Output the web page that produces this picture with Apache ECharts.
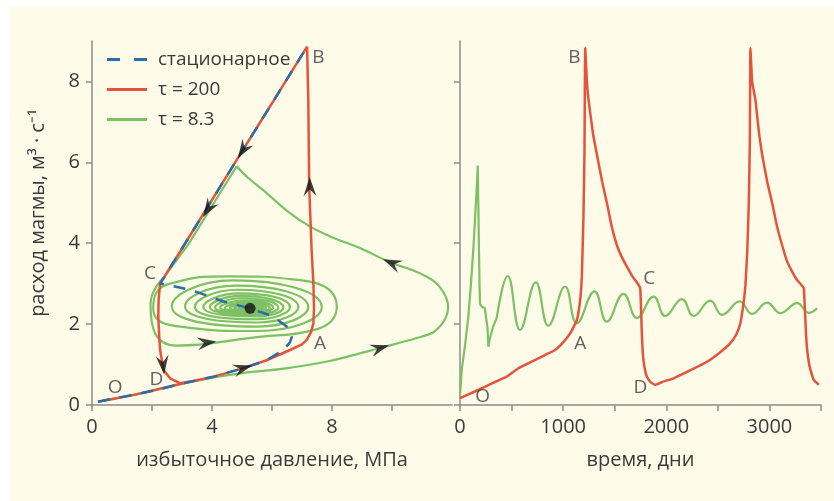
<!DOCTYPE html>
<html>
<head>
<meta charset="utf-8">
<script src="https://cdn.jsdelivr.net/npm/echarts@6/dist/echarts.min.js"></script>
<style>
html, body { margin: 0; padding: 0; background: #fff; }
#container { width: 834px; height: 501px; }
</style>
</head>
<body>
<div id="container"></div>
<script>
// фазовая плоскость: стационарная кривая (S-образная)
var statP = [0.2, 0.7, 1.4, 2.2, 3.0, 4.0, 5.0, 5.8, 6.38, 6.6, 6.66, 6.49, 6.04, 5.27, 4.38, 3.27, 2.49, 2.27, 3.0, 4.0, 5.0, 6.0, 7.17];
var statQ = [0.08, 0.16, 0.25, 0.38, 0.53, 0.69, 0.9, 1.1, 1.36, 1.55, 1.69, 1.94, 2.19, 2.39, 2.56, 2.85, 2.97, 3.0, 3.87, 5.07, 6.27, 7.46, 8.86];

// tau = 200, фазовая плоскость
var redP = [0.2, 1.4, 3.0, 4.0, 5.0, 5.8, 6.6, 7.0, 7.16, 7.3, 7.38, 7.4, 7.38, 7.32, 7.24, 7.21, 7.17, 6.0, 5.0, 4.0, 3.0, 2.27, 2.22, 2.21, 2.24, 2.27, 2.38, 2.6, 2.93, 3.5];
var redQ = [0.08, 0.25, 0.53, 0.69, 0.9, 1.1, 1.36, 1.5, 1.61, 1.8, 2.02, 2.4, 3.01, 3.84, 5.4, 7.55, 8.86, 7.46, 6.27, 5.07, 3.87, 3.0, 2.6, 2.19, 1.7, 1.36, 0.87, 0.66, 0.54, 0.61];

// tau = 8.3, фазовая плоскость: большая петля, участок ветви, спираль
var greenLoopP = [0.2, 1.4, 3.0, 4.2, 5.0, 6.4, 8.0, 9.6, 10.8, 11.38, 11.75, 11.87, 11.72, 11.38, 10.7, 9.99, 8.93, 8.0, 7.27, 6.5, 5.82, 5.2, 4.82];
var greenLoopQ = [0.08, 0.25, 0.52, 0.7, 0.79, 0.9, 1.1, 1.41, 1.65, 1.8, 2.1, 2.43, 2.78, 3.07, 3.33, 3.51, 3.88, 4.15, 4.41, 4.8, 5.24, 5.62, 5.9];
var greenBranchP = [4.82, 4.0, 3.2, 2.4];
var greenBranchQ = [5.9, 4.92, 3.96, 3.16];
var greenSpiralP = [2.4, 1.95, 2.82, 5.5, 7.38, 8.16, 7.0, 4.6, 2.6, 2.04, 2.8, 5.5,
  7.66, 4.7, 2.66, 5.5, 7.21, 4.8, 3.1, 5.5, 6.88, 4.85, 3.43, 5.5, 6.6, 4.9, 3.71, 5.45,
  6.38, 4.95, 3.93, 5.45, 6.21, 5.0, 4.1, 5.42, 6.04, 5.05, 4.27, 5.4, 5.93, 5.1, 4.43, 5.38,
  5.8, 5.12, 4.6, 5.35, 5.7, 5.15, 4.75, 5.33, 5.6, 5.2, 4.9, 5.3, 5.5, 5.22, 5.02, 5.27];
var greenSpiralQ = [3.16, 2.5, 1.47, 1.68, 1.85, 2.43, 3.08, 3.18, 3.0, 2.4, 1.95, 1.83,
  2.42, 3.08, 2.44, 1.94, 2.42, 2.95, 2.44, 2.04, 2.42, 2.85, 2.43, 2.12, 2.42, 2.76, 2.42, 2.19,
  2.41, 2.7, 2.42, 2.24, 2.41, 2.64, 2.41, 2.28, 2.41, 2.58, 2.41, 2.31, 2.4, 2.53, 2.4, 2.33,
  2.4, 2.49, 2.4, 2.35, 2.4, 2.46, 2.4, 2.36, 2.4, 2.44, 2.4, 2.37, 2.39, 2.42, 2.39, 2.39];
var fixedPoint = [5.27, 2.39];

// временные ряды
var redT = [0, 150, 300, 453, 566, 700, 820, 922, 1000, 1068, 1133, 1165, 1181, 1197, 1207, 1214,
  1230, 1246, 1290, 1327, 1380, 1424, 1472, 1521, 1570, 1618, 1667, 1731, 1748, 1756, 1764, 1772,
  1780, 1795, 1812, 1850, 1893, 1960, 2071, 2250, 2395, 2520, 2621, 2680, 2718, 2748, 2767, 2785,
  2800, 2810, 2816, 2832, 2864, 2900, 2929, 2980, 3026, 3075, 3123, 3171, 3220, 3268, 3310, 3333,
  3345, 3356, 3366, 3382, 3398, 3430, 3479];
var redQt = [0.17, 0.34, 0.52, 0.7, 0.91, 1.08, 1.23, 1.36, 1.55, 1.77, 2.1, 2.6, 3.18, 4.66, 6.31, 8.83,
  8.0, 7.55, 6.7, 6.2, 5.5, 5.0, 4.4, 3.95, 3.65, 3.42, 3.2, 2.97, 2.88, 2.3, 1.7, 1.3,
  1.08, 0.85, 0.7, 0.56, 0.5, 0.57, 0.66, 0.88, 1.07, 1.3, 1.53, 1.75, 2.02, 2.5, 2.95, 3.8,
  5.0, 6.5, 8.83, 8.0, 7.55, 6.7, 6.2, 5.5, 5.0, 4.4, 3.95, 3.55, 3.3, 3.09, 2.97, 2.89,
  2.3, 1.7, 1.36, 1.05, 0.87, 0.62, 0.5];
var greenStartT = [0, 10, 19, 50, 81, 105, 129, 150, 165, 172, 178, 184, 190, 194, 215, 240, 259, 267, 275, 290, 320, 356];
var greenStartQ = [0.25, 0.6, 0.92, 1.5, 2.19, 2.95, 3.84, 4.8, 5.5, 5.92, 4.9, 3.84, 2.9, 2.5, 2.42, 2.4, 2.39, 1.9, 1.44, 1.65, 1.93, 2.15];
var greenOscT = [356, 463, 583, 735, 857, 1019, 1133, 1304, 1424, 1586, 1716, 1877, 1990, 2152, 2265, 2427, 2541, 2712, 2832, 2978, 3107, 3269, 3381, 3463];
var greenOscQ = [2.15, 3.19, 1.86, 3.03, 1.96, 2.93, 2.02, 2.81, 2.06, 2.75, 2.15, 2.68, 2.2, 2.62, 2.2, 2.58, 2.23, 2.56, 2.25, 2.53, 2.27, 2.52, 2.28, 2.39];

// оси
var pressureTicks = [0, 2, 4, 6, 8, 10];
var pressureLabels = [0, 4, 8];
var flowTicks = [0, 2, 4, 6, 8];
var dayTicks = [0, 500, 1000, 1500, 2000, 2500, 3000, 3500];
var dayLabels = [0, 1000, 2000, 3000];

// стрелки: [p, q, поворот], буквы: [текст, x, y]
var redArrows = [[5.03, 6.3, 148], [3.87, 4.85, 148], [7.26, 5.4, 1], [2.37, 0.99, -174], [5.03, 0.91, -74]];
var greenArrows = [[9.6, 1.41, -73], [9.99, 3.51, 67], [3.83, 1.54, -83]];
var phaseLetters = [['O', 0.77, 0.42], ['D', 2.15, 0.63], ['C', 1.93, 3.24], ['A', 7.6, 1.53], ['B', 7.55, 8.6]];
var timeLetters = [['B', 1110, 8.6], ['C', 1835, 3.12], ['A', 1165, 1.53], ['D', 1750, 0.42], ['O', 220, 0.2]];

var RED = '#e4533a', BLUE = '#2d6ca8', GREEN = '#7cc164', INK = '#3a3a3a', AXIS = '#8c8c8c';
var FONT = 'Open Sans';

function zip(a, b) {
  return a.map(function (v, i) { return [v, b[i]]; });
}
function arrowData(list) {
  return list.map(function (a) { return { value: [a[0], a[1]], symbolRotate: a[2] }; });
}
function letterData(list) {
  return list.map(function (l) { return { name: l[0], value: [l[1], l[2]] }; });
}
var arrowPath = 'path://M8,0 L16,20 L8,13 L0,20 Z';
var solidIcon = 'path://M0,0h40v3h-40z';
var dashIcon = 'path://M0,0h13v3h-13zM27,0h13v3h-13z';

function xAxisOf(grid, max, ticks, labels, name) {
  return {
    gridIndex: grid, type: 'value', min: 0, max: max,
    name: name, nameLocation: 'middle', nameGap: 45,
    nameTextStyle: { color: INK, fontSize: 20, fontFamily: FONT },
    axisLine: { lineStyle: { color: AXIS, width: 1.5 } },
    axisTick: { customValues: ticks, length: 6, lineStyle: { color: AXIS, width: 1.5 } },
    axisLabel: { customValues: labels, margin: 12, color: INK, fontSize: 20, fontFamily: FONT,
      formatter: function (v) { return String(v); } },
    splitLine: { show: false }
  };
}
function yAxisOf(grid, showLabels, name) {
  return {
    gridIndex: grid, type: 'value', min: 0, max: 9,
    name: name, nameLocation: 'middle', nameGap: 44,
    nameTextStyle: { color: INK, fontSize: 20, fontFamily: FONT, padding: [0, 0, 0, 20] },
    axisLine: { show: true, lineStyle: { color: AXIS, width: 1.5 } },
    axisTick: { show: true, customValues: flowTicks, length: 6, lineStyle: { color: AXIS, width: 1.5 } },
    axisLabel: { show: showLabels, customValues: flowTicks, margin: 12, color: INK, fontSize: 20, fontFamily: FONT },
    splitLine: { show: false }
  };
}
function lineSeries(name, xi, data, color, width, smooth, z, dash) {
  return {
    name: name, type: 'line', xAxisIndex: xi, yAxisIndex: xi, data: data,
    symbol: 'none', smooth: smooth, z: z, silent: true,
    lineStyle: { color: color, width: width, type: dash || 'solid' },
    itemStyle: { color: color }
  };
}
function letterSeries(xi, list) {
  return {
    type: 'scatter', xAxisIndex: xi, yAxisIndex: xi, symbolSize: 1, z: 10, silent: true,
    itemStyle: { color: 'rgba(0,0,0,0)' },
    label: { show: true, position: 'inside', formatter: '{b}', color: INK, fontSize: 19, fontFamily: FONT },
    data: letterData(list)
  };
}

var myChart = echarts.init(document.getElementById('container'));
var option = {
  animation: false,
  graphic: [{ type: 'rect', z: -100, shape: { x: 10, y: 7, width: 824, height: 494 }, style: { fill: '#fefbe9' } }],
  legend: {
    left: 102, top: 45, orient: 'vertical', itemWidth: 40, itemHeight: 3, itemGap: 11,
    selectedMode: false,
    textStyle: { color: INK, fontSize: 19, fontFamily: FONT, padding: [0, 0, 0, 6] },
    data: [
      { name: 'стационарное', icon: dashIcon },
      { name: 'τ = 200', icon: solidIcon },
      { name: 'τ = 8.3', icon: solidIcon }
    ]
  },
  grid: [
    { left: 92, top: 41, width: 360, height: 364 },
    { left: 460, top: 41, width: 361, height: 364 }
  ],
  xAxis: [
    xAxisOf(0, 12, pressureTicks, pressureLabels, 'избыточное давление, МПа'),
    xAxisOf(1, 3500, dayTicks, dayLabels, 'время, дни')
  ],
  yAxis: [
    yAxisOf(0, true, 'расход магмы, м³ · с⁻¹'),
    yAxisOf(1, false, '')
  ],
  series: [
    lineSeries('τ = 8.3', 0, zip(greenLoopP, greenLoopQ), GREEN, 2.2, 0.3, 2),
    lineSeries('τ = 8.3', 0, zip(greenBranchP, greenBranchQ), GREEN, 2.2, false, 2),
    lineSeries('τ = 8.3', 0, zip(greenSpiralP, greenSpiralQ), GREEN, 2.2, 0.55, 2),
    lineSeries('τ = 200', 0, zip(redP, redQ), RED, 2.5, false, 3),
    lineSeries('стационарное', 0, zip(statP, statQ), BLUE, 2.5, false, 4, [12, 10]),
    {
      type: 'scatter', xAxisIndex: 0, yAxisIndex: 0, symbol: arrowPath, symbolSize: [16, 19],
      symbolKeepAspect: true, z: 6, silent: true, itemStyle: { color: '#111' },
      data: arrowData(redArrows.concat(greenArrows))
    },
    {
      type: 'scatter', xAxisIndex: 0, yAxisIndex: 0, symbolSize: 11, z: 6, silent: true,
      itemStyle: { color: '#111' }, data: [fixedPoint]
    },
    letterSeries(0, phaseLetters),
    lineSeries('τ = 8.3', 1, zip(greenStartT, greenStartQ), GREEN, 2.2, false, 2),
    lineSeries('τ = 8.3', 1, zip(greenOscT, greenOscQ), GREEN, 2.2, 0.45, 2),
    lineSeries('τ = 200', 1, zip(redT, redQt), RED, 2.5, 0.12, 3),
    letterSeries(1, timeLetters)
  ]
};
myChart.setOption(option, true);
</script>
</body>
</html>
